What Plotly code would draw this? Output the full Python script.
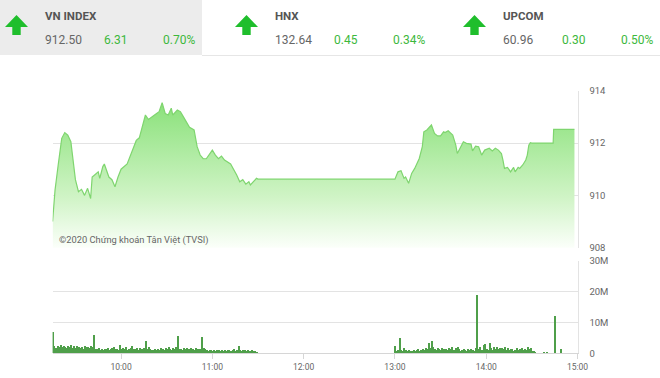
import pandas as pd
import plotly.graph_objects as go

DAY = "2020-06-01 "

# ---- header data ----
idx_names = ["VN INDEX", "HNX", "UPCOM"]
idx_values = ["912.50", "132.64", "60.96"]
idx_change = ["6.31", "0.45", "0.30"]
idx_pct = ["0.70%", "0.34%", "0.50%"]

# ---- price (VN-Index intraday) ----
price_times = [
    "09:15:00", "09:16:36", "09:18:45", "09:21:00", "09:23:00", "09:25:00", "09:27:00", "09:29:00", "09:30:00", "09:32:00",
    "09:34:00", "09:36:00", "09:38:00", "09:40:00", "09:41:00", "09:43:00", "09:45:00", "09:46:00", "09:48:00", "09:49:00",
    "09:52:00", "09:54:00", "09:56:00", "09:58:00", "10:00:00", "10:04:00", "10:07:00", "10:10:00", "10:12:00", "10:14:00",
    "10:16:00", "10:18:00", "10:20:00", "10:22:00", "10:25:00", "10:27:00", "10:29:00", "10:31:00", "10:33:00", "10:34:00",
    "10:37:00", "10:39:00", "10:41:00", "10:43:00", "10:45:00", "10:48:00", "10:50:00", "10:52:00", "10:54:00", "10:56:00",
    "11:00:00", "11:02:00", "11:04:00", "11:06:00", "11:08:00", "11:12:00", "11:14:00", "11:16:00", "11:18:00", "11:20:00",
    "11:22:00", "11:24:00", "11:25:00", "11:27:00", "11:29:00", "11:30:00",
    "13:00:00", "13:02:00", "13:04:00", "13:06:00", "13:07:00", "13:09:00", "13:11:00", "13:13:00", "13:15:00", "13:16:00",
    "13:18:00", "13:19:00", "13:21:00", "13:23:00", "13:24:00", "13:26:00", "13:28:00", "13:30:00", "13:32:00", "13:33:00",
    "13:35:00", "13:38:00", "13:40:00", "13:41:00", "13:43:00", "13:45:00", "13:47:00", "13:50:00", "13:51:00", "13:53:00",
    "13:55:00", "13:57:00", "13:59:00", "14:02:00", "14:04:00", "14:06:00", "14:08:00", "14:10:00", "14:11:00", "14:12:00",
    "14:14:00", "14:16:00", "14:18:00", "14:19:00", "14:21:00", "14:22:00", "14:24:00", "14:26:00", "14:27:00", "14:28:00",
    "14:29:00", "14:30:00", "14:44:00", "14:44:20", "14:58:00",
]
price_values = [
    909.0, 910.2, 911.2, 912.18, 912.4, 912.3, 912.05, 911.1, 910.6, 910.14,
    910.23, 910.0, 910.27, 909.88, 910.7, 910.8, 910.9, 910.65, 911.1, 911.2,
    910.7, 910.6, 910.33, 910.7, 911.0, 911.2, 911.67, 912.1, 912.2, 912.6,
    913.07, 912.9, 913.0, 913.07, 913.2, 913.54, 913.13, 913.07, 913.33, 913.07,
    913.26, 913.2, 913.0, 912.8, 912.6, 912.5, 911.86, 911.54, 911.4, 911.4,
    911.73, 911.54, 911.4, 911.5, 911.35, 911.2, 911.0, 910.78, 910.52, 910.6,
    910.43, 910.52, 910.4, 910.52, 910.65, 910.62,
    910.62, 910.9, 910.94, 910.65, 910.7, 910.46, 910.84, 911.03, 911.28, 911.41,
    911.86, 912.43, 912.5, 912.65, 912.69, 912.37, 912.27, 912.27, 912.43, 912.4,
    912.47, 912.3, 911.92, 911.6, 911.86, 912.05, 911.99, 911.96, 911.7, 911.88,
    911.86, 911.54, 911.73, 911.8, 911.7, 911.8, 911.73, 911.6, 911.35, 911.03,
    911.07, 910.9, 911.07, 910.9, 911.07, 911.03, 911.16, 911.35, 911.54, 911.92,
    912.01, 912.0, 912.0, 912.52, 912.52,
]

# ---- volume (millions of shares, per minute) ----
vol_morning = [  # 09:15 .. 11:29
    6.8,
    2.3, 1.8, 2.5, 2.0, 2.6, 1.9, 2.4, 2.2, 1.7, 2.5, 2.1, 2.6, 1.8, 2.3, 1.6, 2.4, 2.0, 1.7, 2.2, 1.5,
    2.3, 1.9, 2.1, 1.6, 2.4, 2.0,
    6.1,
    1.5, 1.3, 1.6, 1.2, 1.4, 1.1, 1.5, 1.3, 1.8, 1.2, 1.4, 1.6, 2.1, 1.3, 1.5, 1.2, 2.6, 1.4,
    1.6, 1.3, 1.9, 1.2, 1.5, 1.7, 2.5, 1.3, 1.4, 1.6, 1.2, 1.8, 1.5, 1.3, 1.7,
    4.0,
    1.4, 1.9, 1.5, 1.2, 1.0, 1.3, 1.1, 1.5, 1.2, 1.8, 1.4, 1.1, 1.6, 1.3, 1.9, 1.5, 1.2, 1.7, 1.4, 2.0,
    5.6,
    1.3, 1.5, 1.2, 1.6, 1.4, 1.7, 1.3, 1.5, 1.8, 1.4, 1.2, 1.6, 1.3, 1.5, 1.4,
    5.3,
    1.8, 1.3, 1.1, 0.9, 1.2, 1.0, 0.8, 1.1, 0.9, 1.0, 1.2, 0.8, 1.0, 0.9, 1.1, 0.8, 1.0, 1.2, 0.9, 1.1,
    1.3, 0.9, 1.0, 2.5, 1.1, 0.9, 1.2, 1.0, 0.8, 1.1, 0.9, 0.7, 1.0, 0.8, 0.6, 0.5,
]
vol_afternoon = [  # 13:00 .. 14:32
    2.5, 0.8, 1.0, 5.0, 1.2, 0.9, 1.6, 1.0, 0.8, 1.1, 0.9, 0.7, 1.0, 0.8, 1.1, 1.3, 0.9, 1.2, 1.5, 1.1,
    1.8, 1.4, 3.5, 1.6, 4.0, 2.0, 1.5, 1.2, 1.8, 1.4, 1.1, 1.6, 1.3, 1.5, 1.2, 1.7, 1.4, 1.9, 1.2, 1.0,
    1.6, 2.0, 1.3, 0.9, 1.2, 1.5, 1.1, 0.8, 1.3, 1.0, 1.4, 1.2, 0.9, 1.6, 18.8, 1.4, 2.0, 1.2, 2.6, 3.0,
    1.5, 1.1, 3.5, 1.8, 1.2, 2.2, 1.5, 1.9, 1.3, 1.8, 1.6, 1.4, 1.9, 1.2, 1.7, 1.1, 1.5, 1.3, 0.9, 1.2,
    1.6, 1.0, 1.4, 1.8, 1.2, 1.5, 1.0, 1.9, 1.3, 1.6, 0.8, 0.6, 0.5,
]
vol_atc_times = ["14:38:00", "14:40:00", "14:45:00", "14:49:00"]
vol_atc = [0.4, 0.5, 12.2, 1.4]

x_ticks = ["10:00", "11:00", "12:00", "13:00", "14:00", "15:00"]
price_ticks = [908, 910, 912, 914]
vol_ticks = [0, 10, 20, 30]
vol_tick_text = ["0", "10M", "20M", "30M"]

# ---- build ----
W, H = 660, 378
def px(x):
    return x / W
def py(y):
    return 1 - y / H

price_x = list(pd.to_datetime([DAY + t for t in price_times], format="%Y-%m-%d %H:%M:%S"))
vm_x = list(pd.date_range(DAY + "09:15", periods=len(vol_morning), freq="1min"))
va_x = list(pd.date_range(DAY + "13:00", periods=len(vol_afternoon), freq="1min"))
vatc_x = list(pd.to_datetime([DAY + t for t in vol_atc_times], format="%Y-%m-%d %H:%M:%S"))
vol_x = vm_x + va_x + vatc_x
vol_y = vol_morning + vol_afternoon + vol_atc

fig = go.Figure()
fig.add_trace(go.Scatter(
    x=price_x, y=price_values, mode="lines",
    line=dict(color="#7fd56f", width=1.2),
    fill="tozeroy",
    fillgradient=dict(type="vertical", start=908, stop=913.6,
                      colorscale=[[0, "rgb(252,255,251)"], [0.35, "rgb(208,244,198)"],
                                  [1, "rgb(138,225,122)"]]),
    xaxis="x", yaxis="y", hoverinfo="skip", showlegend=False,
))
fig.add_trace(go.Bar(
    x=vol_x, y=vol_y, width=42000,
    marker=dict(color="#4f9f4a", line=dict(width=0)),
    xaxis="x2", yaxis="y2", hoverinfo="skip", showlegend=False,
))

xdom = [px(52.6), px(577.5)]
xrange_ = [DAY + "09:15", DAY + "15:00"]
grid = "#e3e3e3"
tickfont = dict(family="Roboto, Arial, sans-serif", size=9.5, color="#666")

fig.update_layout(
    width=W, height=H, margin=dict(l=0, r=0, t=0, b=0),
    paper_bgcolor="white", plot_bgcolor="white",
    bargap=0,
    xaxis=dict(domain=xdom, range=xrange_, type="date", anchor="y",
               showticklabels=False, showgrid=False, zeroline=False, showline=False,
               ticks=""),
    yaxis=dict(domain=[py(247.7), py(90.7)], range=[908, 914], side="right",
               tickvals=price_ticks, gridcolor=grid, gridwidth=1, zeroline=False,
               showline=True, linecolor=grid, linewidth=1,
               ticks="outside", ticklen=9, tickcolor="rgba(0,0,0,0)",
               tickfont=tickfont, automargin=False, anchor="x"),
    xaxis2=dict(domain=xdom, range=xrange_, type="date", anchor="y2",
                tickvals=[DAY + t for t in x_ticks], tickformat="%H:%M",
                showgrid=False, zeroline=False, showline=True, linecolor="#d6d6d6",
                ticks="outside", ticklen=5, tickcolor="#d6d6d6",
                tickfont=dict(family="Roboto, Arial, sans-serif", size=8.5, color="#666"),
                automargin=False),
    yaxis2=dict(domain=[py(353.3), py(261)], range=[0, 30], side="right",
                tickvals=vol_ticks, ticktext=vol_tick_text, gridcolor=grid,
                zeroline=False, showline=True, linecolor=grid,
                ticks="outside", ticklen=9, tickcolor="rgba(0,0,0,0)",
                tickfont=tickfont, automargin=False, anchor="x2"),
)

shapes = []
annotations = []
# header background & separator
shapes.append(dict(type="rect", xref="paper", yref="paper",
                   x0=px(0), x1=px(202), y0=py(55), y1=py(0),
                   fillcolor="#ececec", line=dict(width=0), layer="below"))
shapes.append(dict(type="line", xref="paper", yref="paper",
                   x0=px(202), x1=px(660), y0=py(55.5), y1=py(55.5),
                   line=dict(color="#e6e6e6", width=1)))

panel_x = [0, 230, 458]
for i, x0 in enumerate(panel_x):
    # green up arrow
    tip = x0 + 16.5
    pts = [(tip, 15), (x0 + 28, 27), (x0 + 20.7, 27), (x0 + 20.7, 35),
           (x0 + 12.3, 35), (x0 + 12.3, 27), (x0 + 5, 27)]
    path = "M " + " L ".join(f"{px(a):.5f},{py(b):.5f}" for a, b in pts) + " Z"
    shapes.append(dict(type="path", xref="paper", yref="paper", path=path,
                       fillcolor="#1fbe2c", line=dict(width=0)))
    tx = x0 + 43
    annotations.append(dict(x=px(tx), y=py(16.5), xref="paper", yref="paper",
                            text=f"<b>{idx_names[i]}</b>", showarrow=False,
                            xanchor="left", yanchor="middle",
                            font=dict(family="Roboto, sans-serif", size=11.5, color="#555")))
    annotations.append(dict(x=px(tx), y=py(40.5), xref="paper", yref="paper",
                            text=idx_values[i], showarrow=False,
                            xanchor="left", yanchor="middle",
                            font=dict(family="Roboto, sans-serif", size=12, color="#666")))
    annotations.append(dict(x=px(x0 + 101.5), y=py(40.5), xref="paper", yref="paper",
                            text=idx_change[i], showarrow=False,
                            xanchor="left", yanchor="middle",
                            font=dict(family="Roboto, sans-serif", size=12, color="#3cb83c")))
    annotations.append(dict(x=px(x0 + 161), y=py(40.5), xref="paper", yref="paper",
                            text=idx_pct[i], showarrow=False,
                            xanchor="left", yanchor="middle",
                            font=dict(family="Roboto, sans-serif", size=12, color="#3cb83c")))

annotations.append(dict(x=px(57), y=py(240), xref="paper", yref="paper",
                        text="©2020 Chứng khoán Tân Việt (TVSI)", showarrow=False,
                        xanchor="left", yanchor="middle",
                        font=dict(family="Roboto, sans-serif", size=9.3, color="#666")))

fig.update_layout(shapes=shapes, annotations=annotations)
fig.write_html("out.html", config={"displayModeBar": False},
               post_script="document.body.style.margin='0px';document.body.style.overflow='hidden';")
